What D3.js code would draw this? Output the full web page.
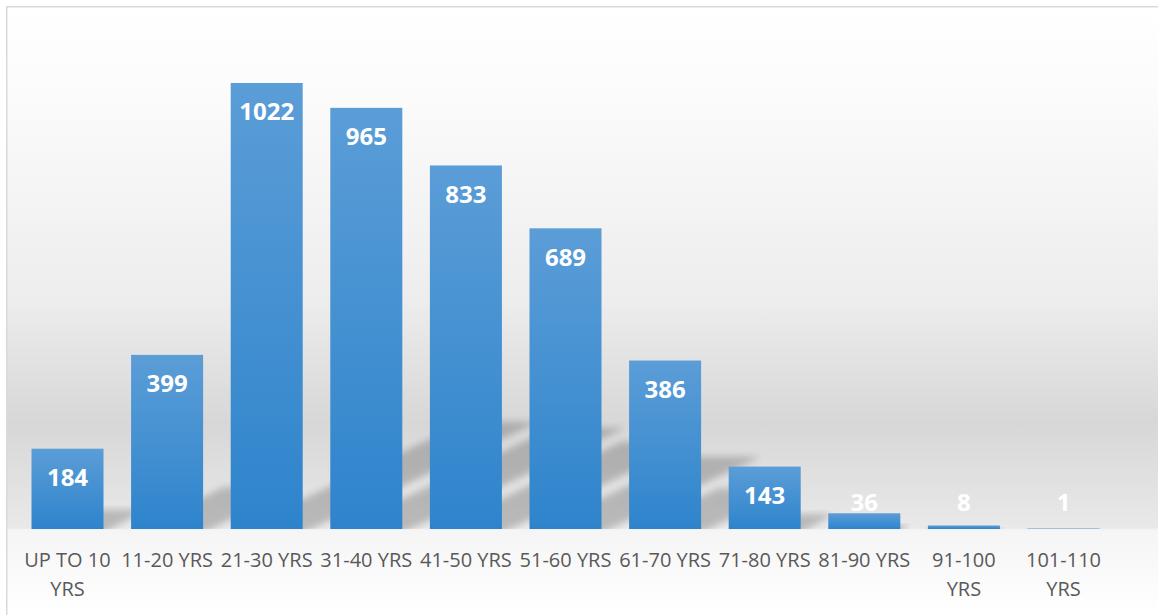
<!DOCTYPE html>
<html>
<head>
<meta charset="utf-8">
<script src="https://cdn.jsdelivr.net/npm/d3@7"></script>
<style>
  html, body { margin: 0; padding: 0; background: #ffffff; }
  svg { display: block; }
</style>
</head>
<body>
<svg id="chart" width="1158" height="615"></svg>
<script>
const categories = ["UP TO 10 YRS", "11-20 YRS", "21-30 YRS", "31-40 YRS", "41-50 YRS", "51-60 YRS", "61-70 YRS", "71-80 YRS", "81-90 YRS", "91-100 YRS", "101-110 YRS"];
const values = [184, 399, 1022, 965, 833, 689, 386, 143, 36, 8, 1];
const yDomain = [0, 1200];

const W = 1158, H = 615;
const svg = d3.select("#chart");
const defs = svg.append("defs");

// chart background gradient
const bg = defs.append("linearGradient").attr("id", "bgGrad")
  .attr("gradientUnits", "userSpaceOnUse").attr("x1", 0).attr("y1", 6).attr("x2", 0).attr("y2", 615);
[[6, "#ffffff"], [100, "#fbfbfb"], [300, "#ededed"], [423, "#d7d7d7"], [528, "#e9e9e9"], [530, "#f5f5f5"], [615, "#ffffff"]]
  .forEach(([y, c]) => bg.append("stop").attr("offset", ((y - 6) / 609)).attr("stop-color", c));

const barGrad = defs.append("linearGradient").attr("id", "barGrad")
  .attr("x1", 0).attr("y1", 0).attr("x2", 0).attr("y2", 1);
barGrad.append("stop").attr("offset", 0).attr("stop-color", "#5b9dd7");
barGrad.append("stop").attr("offset", 1).attr("stop-color", "#2e84cc");

const blur = defs.append("filter").attr("id", "blur")
  .attr("x", "-20%").attr("y", "-20%").attr("width", "140%").attr("height", "140%");
blur.append("feGaussianBlur").attr("stdDeviation", 3.5);

svg.append("rect").attr("x", 6.75).attr("y", 6.75).attr("width", 1200).attr("height", 700)
  .attr("fill", "url(#bgGrad)").attr("stroke", "#d9d9d9").attr("stroke-width", 1.5);

const x = d3.scaleBand().domain(categories).range([17.7, 1113.3])
  .paddingInner(0.277).paddingOuter(0.1385);
const y = d3.scaleLinear().domain(yDomain).range([529, 5.3]);
const base = y(0);

defs.append("clipPath").attr("id", "plotClip")
  .append("rect").attr("x", 8).attr("y", 8).attr("width", 1150).attr("height", base - 8);

// perspective shadows
const k = 0.24, s = 2.2;
svg.append("g").attr("clip-path", "url(#plotClip)")
  .selectAll("path").data(values).join("path")
  .attr("d", (d, i) => {
    const x0 = x(categories[i]), x1 = x0 + x.bandwidth();
    const h = (base - y(d)) * k;
    return `M${x0},${base + 4}L${x1},${base + 4}L${x1 + s * h},${base - h}L${x0 + s * h},${base - h}Z`;
  })
  .attr("fill", "#000").attr("opacity", 0.2).attr("filter", "url(#blur)");

// bars
svg.append("g").selectAll("rect").data(values).join("rect")
  .attr("x", (d, i) => x(categories[i]))
  .attr("y", d => y(d))
  .attr("width", x.bandwidth())
  .attr("height", d => base - y(d))
  .attr("fill", "url(#barGrad)");

// value labels
svg.append("g").selectAll("text").data(values).join("text")
  .attr("x", (d, i) => x(categories[i]) + x.bandwidth() / 2)
  .attr("y", d => Math.min(y(d) + 29, base - 27) + 8.5)
  .attr("text-anchor", "middle")
  .attr("font-family", "'Open Sans', sans-serif")
  .attr("font-weight", "bold")
  .attr("font-size", 24)
  .attr("fill", "#ffffff")
  .text(d => d);

// category labels with wrapping
const maxW = x.step();
const lab = svg.append("g").selectAll("text").data(categories).join("text")
  .attr("text-anchor", "middle")
  .attr("font-family", "'Open Sans', sans-serif")
  .attr("font-size", 20)
  .attr("fill", "#595959");
lab.each(function (c) {
  const t = d3.select(this);
  const cx = x(c) + x.bandwidth() / 2;
  const words = c.split(" ");
  let lines = [], cur = [];
  const probe = t.append("tspan");
  words.forEach(w => {
    const test = cur.concat([w]).join(" ");
    probe.text(test);
    if (probe.node().getComputedTextLength() > maxW && cur.length) {
      lines.push(cur.join(" ")); cur = [w];
    } else cur.push(w);
  });
  lines.push(cur.join(" "));
  probe.remove();
  lines.forEach((ln, j) => {
    t.append("tspan").attr("x", cx).attr("y", 566.7 + j * 29).text(ln);
  });
});
</script>
</body>
</html>
